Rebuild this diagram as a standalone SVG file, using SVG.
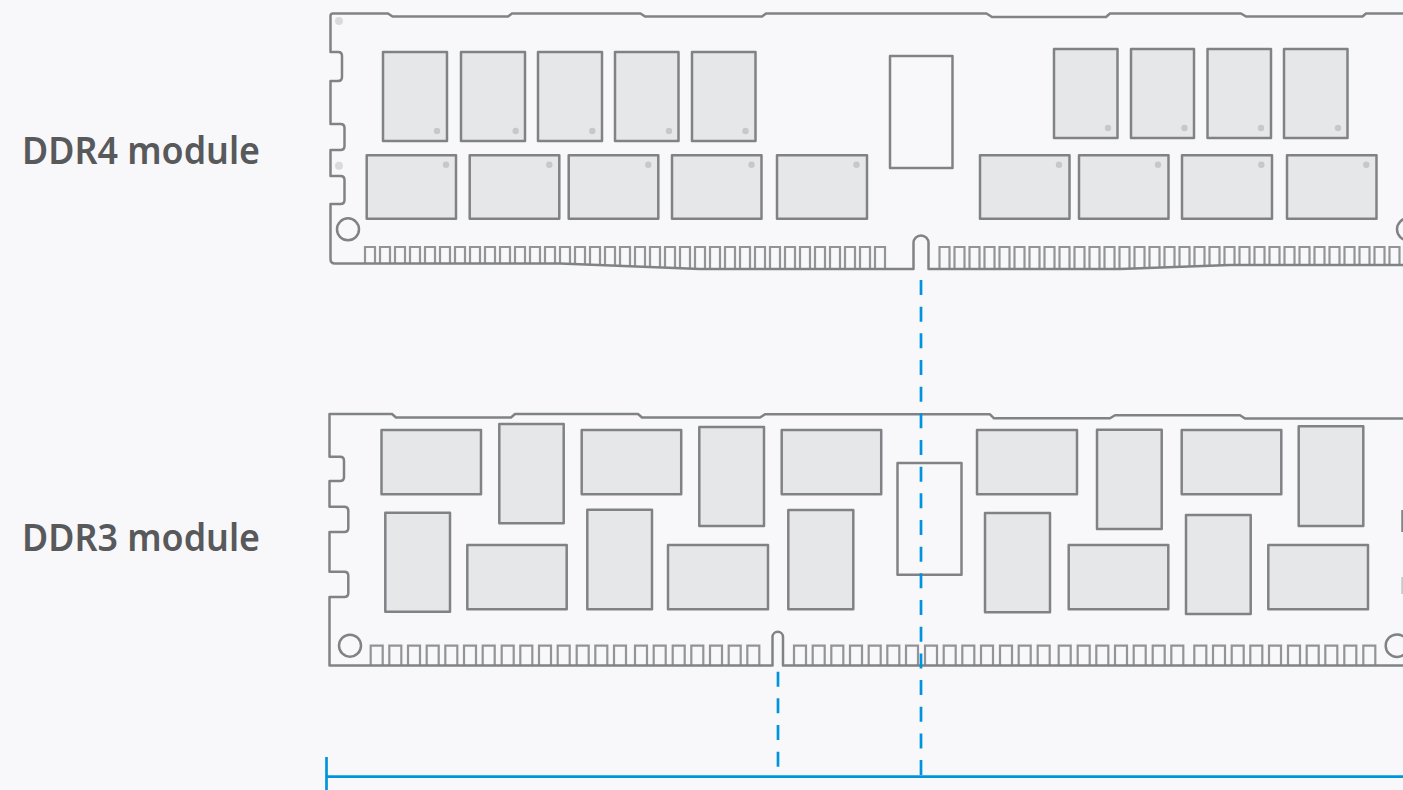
<svg xmlns="http://www.w3.org/2000/svg" width="1403" height="790" viewBox="0 0 1403 790">
<style>
.board{fill:none;stroke:#808285;stroke-width:2.5;stroke-linejoin:round}
.pins{fill:none;stroke:#808285;stroke-width:2.2;opacity:.85}
.chip{fill:#e6e7e8;stroke:#808285;stroke-width:2.5;stroke-linejoin:round}
.open{fill:none;stroke:#808285;stroke-width:2.5;stroke-linejoin:round}
.dot{fill:#c7c8ca}
.hole{fill:#d9dadc}
.ring{fill:none;stroke:#808285;stroke-width:2.5}
.label{font-family:"Noto Sans","Liberation Sans",sans-serif;font-weight:600;font-size:38px;fill:#58595b}
.dash{fill:none;stroke:#0095da;stroke-width:2.7;stroke-dasharray:15 11.67}
.rule{fill:none;stroke:#0095da;stroke-width:2.7}
</style>
<rect width="1403" height="790" fill="#f8f8fb"/>
<g id="ddr4-module">
<text class="label" x="22" y="163.500" textLength="238" lengthAdjust="spacingAndGlyphs">DDR4 module</text>
<path class="board" d="M1403 13.500H1366L1362.500 16.500H1246L1241 13.500H1110L1106 17H992L986.500 13.500H766L762 16.500H645L640.500 13.500H512L508 16.500H392.500L388 13.500H333Q330.500 13.500 330.500 16V52H338Q342 52 342 56V77Q342 81 338 81H330.500V124H340.500Q344.500 124 344.500 128V146Q344.500 150 340.500 150H330.500V176H340.500Q344.500 176 344.500 180V200Q344.500 204 340.500 204H330.500V259Q330.500 263.500 335 263.500H560L700 269H913.500V243A7.500 7.500 0 0 1 928.500 243V269H1120L1230 265H1403"/>
<path class="pins" d="M365 264V247h10V264M380 264V247h10V264M395 264V247h10V264M410 264V247h10V264M425 264V247h10V264M440 264V247h10V264M455 264V247h10V264M470 264V247h10V264M485 264V247h10V264M500 264V247h10V264M515 264V247h10V264M530 264V247h10V264M545 264V247h10V264M560 264V247h10V264M575 265V247h10V265M590 265V247h10V265M605 266V247h10V266M620 266V247h10V266M635 267V247h10V267M650 267V247h10V267M665 268V247h10V268M680 268V247h10V268M695 269V247h10V269M710 269V247h10V269M725 269V247h10V269M740 269V247h10V269M755 269V247h10V269M770 269V247h10V269M785 269V247h10V269M800 269V247h10V269M815 269V247h10V269M830 269V247h10V269M845 269V247h10V269M860 269V247h10V269M875 269V247h10V269"/>
<path class="pins" d="M939.500 269V247h10V269M954.500 269V247h10V269M969.500 269V247h10V269M984.500 269V247h10V269M999.500 269V247h10V269M1014.500 269V247h10V269M1029.500 269V247h10V269M1044.500 269V247h10V269M1059.500 269V247h10V269M1074.500 269V247h10V269M1089.500 269V247h10V269M1104.500 269V247h10V269M1119.500 269V247h10V269M1134.500 268V247h10V268M1149.500 268V247h10V268M1164.500 267V247h10V267M1179.500 267V247h10V267M1194.500 266V247h10V266M1209.500 266V247h10V266M1224.500 265V247h10V265M1239.500 265V247h10V265M1254.500 265V247h10V265M1269.500 265V247h10V265M1284.500 265V247h10V265M1299.500 265V247h10V265M1314.500 265V247h10V265M1329.500 265V247h10V265M1344.500 265V247h10V265M1359.500 265V247h10V265M1374.500 265V247h10V265M1389.500 265V247h10V265"/>
<circle class="hole" cx="339" cy="21" r="4"/>
<circle class="hole" cx="339" cy="165.700" r="4"/>
<circle class="ring" cx="348" cy="229.300" r="11"/>
<circle class="ring" cx="1408" cy="229.300" r="11"/>
<rect class="chip" x="383" y="52" width="64" height="89"/>
<rect class="chip" x="461" y="52" width="64" height="89"/>
<rect class="chip" x="538" y="52" width="64" height="89"/>
<rect class="chip" x="615" y="52" width="63.500" height="89"/>
<rect class="chip" x="692" y="52" width="63.500" height="89"/>
<rect class="chip" x="1054" y="49" width="63.500" height="89"/>
<rect class="chip" x="1131" y="49" width="63" height="89"/>
<rect class="chip" x="1207.500" y="49" width="63.500" height="89"/>
<rect class="chip" x="1284" y="49" width="63.500" height="89"/>
<rect class="chip" x="366.700" y="155.300" width="89.300" height="63.400"/>
<rect class="chip" x="469.700" y="155.300" width="89.600" height="63.400"/>
<rect class="chip" x="568.700" y="155.300" width="89.600" height="63.400"/>
<rect class="chip" x="672" y="155.300" width="89.500" height="63.400"/>
<rect class="chip" x="777" y="155.300" width="90" height="63.400"/>
<rect class="chip" x="980" y="155.300" width="89.500" height="63.400"/>
<rect class="chip" x="1079" y="155.300" width="89.500" height="63.400"/>
<rect class="chip" x="1182" y="155.300" width="90" height="63.400"/>
<rect class="chip" x="1287" y="155.300" width="89.500" height="63.400"/>
<rect class="open" x="890" y="56" width="62.500" height="112"/>
<circle class="dot" cx="437" cy="131" r="3.200"/>
<circle class="dot" cx="515.700" cy="131" r="3.200"/>
<circle class="dot" cx="592.300" cy="131" r="3.200"/>
<circle class="dot" cx="669" cy="131" r="3.200"/>
<circle class="dot" cx="745.500" cy="131" r="3.200"/>
<circle class="dot" cx="1108" cy="128" r="3.200"/>
<circle class="dot" cx="1184.500" cy="128" r="3.200"/>
<circle class="dot" cx="1261" cy="128" r="3.200"/>
<circle class="dot" cx="1338" cy="128" r="3.200"/>
<circle class="dot" cx="446" cy="164.700" r="3.200"/>
<circle class="dot" cx="549.300" cy="164.700" r="3.200"/>
<circle class="dot" cx="648.300" cy="164.700" r="3.200"/>
<circle class="dot" cx="751.500" cy="164.700" r="3.200"/>
<circle class="dot" cx="856.500" cy="164.700" r="3.200"/>
<circle class="dot" cx="1059" cy="164.700" r="3.200"/>
<circle class="dot" cx="1158" cy="164.700" r="3.200"/>
<circle class="dot" cx="1261.300" cy="164.700" r="3.200"/>
<circle class="dot" cx="1366.300" cy="164.700" r="3.200"/>
</g>
<g id="ddr3-module">
<text class="label" x="22" y="550.500" textLength="238" lengthAdjust="spacingAndGlyphs">DDR3 module</text>
<path class="board" d="M1403 418.500H1245L1240 415.300H1115L1110 418.300H994L990 414.300H765L760 417.500H642L638 414H515L511 417.500H396L392 414H329.500V456.700H340Q344 456.700 344 460.700V477Q344 481 340 481H329.500V506.700H344.300Q348.300 506.700 348.300 510.700V528Q348.300 532 344.300 532H329.500V571.700H344.300Q348.300 571.700 348.300 575.700V593Q348.300 597 344.300 597H329.500V665.500H772.500V637A5.250 5.250 0 0 1 783 637V665.500H1403"/>
<path class="pins" d="M370.700 666V645.700h12V666M389.300 666V645.700h12V666M408 666V645.700h12V666M426.700 666V645.700h12V666M445.300 666V645.700h12V666M464 666V645.700h12V666M482.700 666V645.700h12V666M501.700 666V645.700h12V666M520.300 666V645.700h12V666M539 666V645.700h12V666M557.700 666V645.700h12V666M576.700 666V645.700h12V666M595.300 666V645.700h12V666M614 666V645.700h12V666M635 666V645.700h12V666M653.700 666V645.700h12V666M672.700 666V645.700h12V666M691.300 666V645.700h12V666M710 666V645.700h12V666M728.700 666V645.700h12V666M747.300 666V645.700h12V666M794 666V645.700h12V666M812.700 666V645.700h12V666M831.300 666V645.700h12V666M850 666V645.700h12V666M868.700 666V645.700h12V666M887.300 666V645.700h12V666M906 666V645.700h12V666M925 666V645.700h12V666M943.700 666V645.700h12V666M962.300 666V645.700h12V666M981 666V645.700h12V666M1000 666V645.700h12V666M1018.700 666V645.700h12V666M1037.700 666V645.700h12V666M1058.700 666V645.700h12V666M1077.700 666V645.700h12V666M1096.300 666V645.700h12V666M1115 666V645.700h12V666M1133.700 666V645.700h12V666M1152.700 666V645.700h12V666M1171.300 666V645.700h12V666M1194.300 666V645.700h12V666M1213 666V645.700h12V666M1231.700 666V645.700h12V666M1250.300 666V645.700h12V666M1269 666V645.700h12V666M1288 666V645.700h12V666M1306.700 666V645.700h12V666M1325.300 666V645.700h12V666M1344.300 666V645.700h12V666M1363.300 666V645.700h12V666"/>
<circle class="ring" cx="350" cy="645.700" r="11"/>
<circle class="ring" cx="1397" cy="645.700" r="11.300"/>
<path class="board" d="M1402.500 510V532"/>
<path class="board" d="M1402.500 577V594" opacity=".4"/>
<rect class="chip" x="381.500" y="430" width="99.500" height="64.300"/>
<rect class="chip" x="499.300" y="424" width="64.400" height="99.300"/>
<rect class="chip" x="581.700" y="430" width="99.500" height="64.300"/>
<rect class="chip" x="699.300" y="427" width="64.700" height="99"/>
<rect class="chip" x="781.700" y="430" width="99.500" height="64.300"/>
<rect class="chip" x="977" y="430" width="100" height="64.300"/>
<rect class="chip" x="1097" y="429.700" width="64.700" height="99.300"/>
<rect class="chip" x="1181.700" y="430" width="99.600" height="64.300"/>
<rect class="chip" x="1298.700" y="426.300" width="64.600" height="99.700"/>
<rect class="chip" x="385.300" y="512.700" width="64.700" height="99"/>
<rect class="chip" x="467.300" y="545" width="99.400" height="64.300"/>
<rect class="chip" x="587.300" y="509.700" width="64.700" height="99.600"/>
<rect class="chip" x="668" y="545" width="100" height="64.300"/>
<rect class="chip" x="788.300" y="510" width="65" height="99.300"/>
<rect class="chip" x="985" y="513" width="65" height="99.300"/>
<rect class="chip" x="1068.700" y="545" width="99.600" height="64.300"/>
<rect class="chip" x="1186" y="515" width="64.700" height="99"/>
<rect class="chip" x="1268.300" y="545" width="99.700" height="64.300"/>
<rect class="open" x="897.500" y="463" width="64" height="111.700"/>
</g>
<g id="connectors">
<path class="dash" d="M921 280V776"/>
<path class="dash" d="M778 671.700V767"/>
<path class="rule" d="M327 776.700H1403"/>
<path class="rule" d="M326.500 757V790"/>
</g>
</svg>
